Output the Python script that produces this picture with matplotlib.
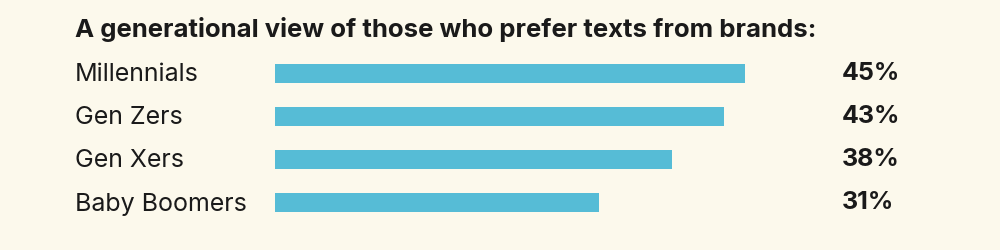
import matplotlib.pyplot as plt
from matplotlib.transforms import blended_transform_factory

# Data
categories = ["Millennials", "Gen Zers", "Gen Xers", "Baby Boomers"]
values = [45, 43, 38, 31]
title = "A generational view of those who prefer texts from brands:"

bg = "#fcf9ec"
bar_color = "#56bcd6"
text_color = "#1a1a1a"

plt.rcParams['font.family'] = ['Inter', 'DejaVu Sans']

fig = plt.figure(figsize=(10, 2.5), dpi=100, facecolor=bg)
ax = fig.add_axes([0.275, 0.102, 0.47, 0.692])
ax.set_facecolor(bg)

y = range(len(categories))
ax.barh(y, values, height=0.44, color=bar_color)
ax.set_xlim(0, 45)
ax.set_ylim(len(categories) - 0.5, -0.5)
ax.axis('off')

# x in figure coords, y in data coords
trans = blended_transform_factory(fig.transFigure, ax.transData)
for i, (cat, v) in enumerate(zip(categories, values)):
    ax.text(0.075, i + 0.03, cat, transform=trans, ha='left', va='center',
            fontsize=18, color=text_color)
    ax.text(0.842, i, f"{v}%", transform=trans, ha='left', va='center',
            fontsize=18, fontweight='bold', color=text_color)

fig.text(0.075, 0.88, title, ha='left', va='center', fontsize=18.5,
         fontweight='bold', color=text_color)

fig.savefig("out.png", dpi=100, facecolor=bg)
